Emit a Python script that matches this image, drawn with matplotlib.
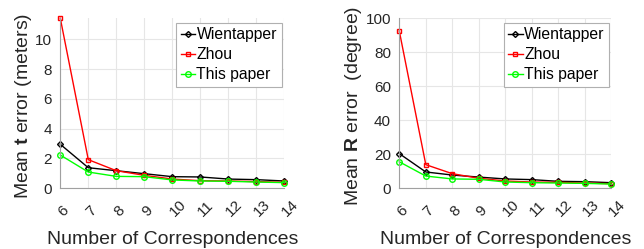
import matplotlib
matplotlib.use("Agg")
import matplotlib.pyplot as plt

plt.rcParams['font.family'] = ['Liberation Sans', 'DejaVu Sans']
plt.rcParams['mathtext.fontset'] = 'custom'
plt.rcParams['mathtext.rm'] = 'Liberation Sans'
plt.rcParams['mathtext.bf'] = 'Liberation Sans:bold'

correspondences = [6, 7, 8, 9, 10, 11, 12, 13, 14]
tick_labels = [str(c) for c in correspondences]
series_names = ["Wientapper", "Zhou", "This paper"]

t_wientapper = [2.95, 1.38, 1.18, 0.98, 0.78, 0.76, 0.62, 0.58, 0.49]
t_zhou = [11.4, 1.92, 1.18, 0.87, 0.62, 0.51, 0.49, 0.45, 0.40]
t_this = [2.23, 1.09, 0.80, 0.78, 0.56, 0.49, 0.47, 0.42, 0.38]

r_wientapper = [20.4, 9.6, 7.8, 6.6, 5.5, 5.1, 4.1, 3.9, 3.3]
r_zhou = [92.5, 13.9, 8.6, 5.9, 4.3, 3.7, 3.5, 3.1, 2.7]
r_this = [15.6, 7.2, 5.5, 5.3, 3.7, 3.3, 3.1, 2.9, 2.5]

W, H = 644, 249
fig = plt.figure(figsize=(W / 100, H / 100), dpi=100)

styles = [
    dict(color='black', marker='D', markersize=3, markerfacecolor='none', markeredgewidth=1.0),
    dict(color='red', marker='s', markersize=3.5, markerfacecolor='none', markeredgewidth=1.0),
    dict(color='#00ff00', marker='o', markersize=4, markerfacecolor='none', markeredgewidth=1.0),
]

def make_axes(rect_px, series, ylim, yticks, ylabel, ylabel_x, legend_anchor_px):
    x0, x1, ytop, ybot = rect_px
    ax = fig.add_axes([x0 / W, 1 - ybot / H, (x1 - x0) / W, (ybot - ytop) / H])
    for vals, name, st in zip(series, series_names, styles):
        ax.plot(correspondences, vals, label=name, linewidth=1.0, clip_on=False, **st)
    ax.set_xlim(correspondences[0], correspondences[-1])
    ax.set_ylim(*ylim)
    ax.set_yticks(yticks)
    ax.set_xticks(correspondences)
    ax.set_xticklabels(tick_labels, rotation=45, ha='left', va='center',
                       rotation_mode='anchor', fontsize=11)
    ax.tick_params(axis='y', labelsize=11, length=0, pad=6, labelcolor='#262626')
    ax.tick_params(axis='x', length=0, pad=18.5, labelcolor='#262626')
    ax.grid(True, color='#e6e6e6', linewidth=0.8)
    ax.set_axisbelow(True)
    for s in ['top', 'right']:
        ax.spines[s].set_visible(False)
    for s in ['left', 'bottom']:
        ax.spines[s].set_color('#a0a0a0')
        ax.spines[s].set_linewidth(0.8)
    ax.set_xlabel("Number of Correspondences", fontsize=14, color='#262626')
    ax.xaxis.set_label_coords(0.5, (ybot - 230.5) / (ybot - ytop))
    ax.xaxis.label.set_va('top')
    ax.set_ylabel(ylabel, fontsize=14, color='#262626')
    ax.yaxis.set_label_coords((ylabel_x - x0) / (x1 - x0), (ybot - 106) / (ybot - ytop))
    ax.yaxis.label.set_va('center')
    leg = ax.legend(loc='upper right',
                    bbox_to_anchor=(legend_anchor_px[0] / W, 1 - legend_anchor_px[1] / H),
                    bbox_transform=fig.transFigure, borderaxespad=0,
                    fancybox=False, framealpha=1, edgecolor='#b0b0b0',
                    fontsize=11.3, handlelength=0.9, handletextpad=0.1,
                    labelspacing=0.32, borderpad=0.3)
    leg.get_frame().set_linewidth(0.8)
    return ax

make_axes((60.3, 284.3, 18.3, 188.3), [t_wientapper, t_zhou, t_this],
          (0, 11.4), [0, 2, 4, 6, 8, 10], r"Mean $\mathbf{t}$ error (meters)", 24,
          (281.7, 22.7))
make_axes((399.3, 611.3, 18.3, 188.3), [r_wientapper, r_zhou, r_this],
          (0, 100), [0, 20, 40, 60, 80, 100], r"Mean $\mathbf{R}$ error  (degree)", 353,
          (609.3, 22.7))

fig.savefig("out.png", dpi=100)
